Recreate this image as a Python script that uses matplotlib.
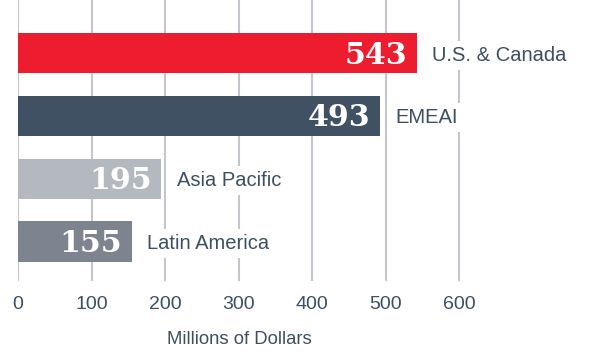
import matplotlib
matplotlib.use("Agg")
import matplotlib.pyplot as plt

categories = ["U.S. & Canada", "EMEAI", "Asia Pacific", "Latin America"]
values = [543, 493, 195, 155]
bar_colors = ["#ED1C2E", "#3F5163", "#B4B8BF", "#7D8490"]
xticks = [0, 100, 200, 300, 400, 500, 600]
xlabel = "Millions of Dollars"

text_color = "#3D4F61"
grid_color = "#C3C6CC"

fig = plt.figure(figsize=(5.92, 3.58), dpi=100)
W, H = 592, 358
ax_left, ax_right, ax_top, ax_bottom = 18, 592, 0, 281
ax = fig.add_axes([ax_left / W, 1 - ax_bottom / H, (ax_right - ax_left) / W, (ax_bottom - ax_top) / H])

px_per_unit = 0.735
ax.set_xlim(0, (ax_right - ax_left) / px_per_unit)
ypos = list(range(len(categories)))
ax.set_ylim(3.63, -0.845)

for x in xticks:
    ax.axvline(x, color=grid_color, lw=1.5, zorder=0)

ax.barh(ypos, values, height=0.64, color=bar_colors, zorder=2)

for y, v, c in zip(ypos, values, categories):
    ax.annotate(str(v), xy=(v, y), xytext=(-7, -1.5), textcoords="offset points",
                ha="right", va="center", color="white", fontsize=21.5,
                fontweight="bold", family="DejaVu Serif", zorder=3)
    ax.annotate(c, xy=(v, y), xytext=(11, -1.5), textcoords="offset points",
                ha="left", va="center", color=text_color, fontsize=14.5,
                family="Liberation Sans", zorder=3,
                bbox=dict(boxstyle="square,pad=0.25", fc="white", ec="none"))

ax.set_xticks(xticks)
ax.set_xticklabels([str(t) for t in xticks], fontsize=14, color=text_color, family="Liberation Sans")
ax.tick_params(axis="x", length=0, pad=10.5)
ax.set_yticks([])
for s in ax.spines.values():
    s.set_visible(False)

fig.text(239 / W, 1 - 339 / H, xlabel, ha="center", va="center", fontsize=13.3,
         color=text_color, family="Liberation Sans")

fig.savefig("out.png", dpi=100)
